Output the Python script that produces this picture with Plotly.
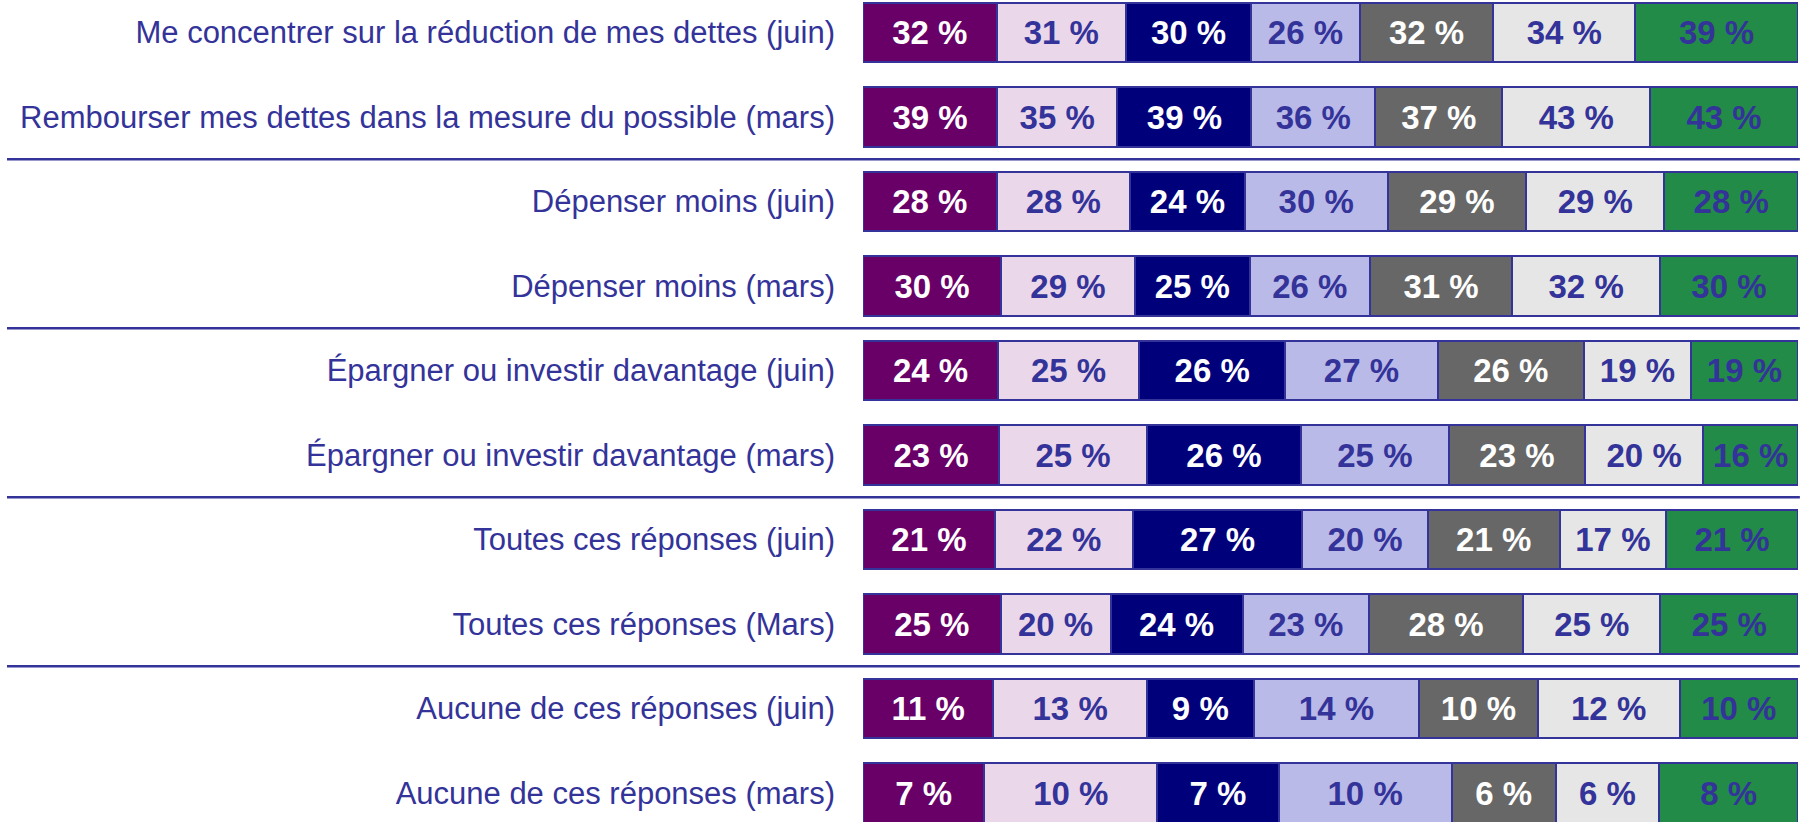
import plotly.graph_objects as go

categories = [
    "Me concentrer sur la réduction de mes dettes (juin)",
    "Rembourser mes dettes dans la mesure du possible (mars)",
    "Dépenser moins (juin)",
    "Dépenser moins (mars)",
    "Épargner ou investir davantage (juin)",
    "Épargner ou investir davantage (mars)",
    "Toutes ces réponses (juin)",
    "Toutes ces réponses (Mars)",
    "Aucune de ces réponses (juin)",
    "Aucune de ces réponses (mars)",
]

s1 = [32, 39, 28, 30, 24, 23, 21, 25, 11, 7]
s2 = [31, 35, 28, 29, 25, 25, 22, 20, 13, 10]
s3 = [30, 39, 24, 25, 26, 26, 27, 24, 9, 7]
s4 = [26, 36, 30, 26, 27, 25, 20, 23, 14, 10]
s5 = [32, 37, 29, 31, 26, 23, 21, 28, 10, 6]
s6 = [34, 43, 29, 32, 19, 20, 17, 25, 12, 6]
s7 = [39, 43, 28, 30, 19, 16, 21, 25, 10, 8]

series_names = ["Série 1", "Série 2", "Série 3", "Série 4", "Série 5", "Série 6", "Série 7"]
series_values = [s1, s2, s3, s4, s5, s6, s7]
fill_colors = ["#680068", "#ead8ea", "#00007a", "#babae8", "#676767", "#e6e6e6", "#228b48"]
text_colors = ["#ffffff", "#333399", "#ffffff", "#333399", "#ffffff", "#333399", "#333399"]

group_breaks = [1.5, 3.5, 5.5, 7.5]

BLUE = "#333399"
FONT = "Liberation Sans, Arial, sans-serif"

fig = go.Figure()
for name, vals, fc, tc in zip(series_names, series_values, fill_colors, text_colors):
    fig.add_trace(go.Bar(
        y=categories, x=vals, name=name, orientation="h",
        marker=dict(color=fc, line=dict(color=BLUE, width=2)),
        text=[f"{v} %" for v in vals],
        textposition="inside", insidetextanchor="middle",
        textfont=dict(family=FONT, size=33, color=tc, weight="bold"),
        cliponaxis=False,
        hoverinfo="skip",
    ))

for yb in group_breaks:
    fig.add_shape(type="line", xref="paper", yref="y",
                  x0=-0.9155, x1=1.002, y0=yb, y1=yb,
                  line=dict(color=BLUE, width=2.5))

fig.update_layout(
    barmode="stack", barnorm="percent", bargap=0.30,
    width=1807, height=822,
    margin=dict(l=863, r=9, t=0, b=0),
    paper_bgcolor="white", plot_bgcolor="white",
    showlegend=False,
    uniformtext=dict(minsize=33, mode="show"),
    xaxis=dict(visible=False, range=[0, 100.001], fixedrange=True),
    yaxis=dict(
        type="category", range=[9.343, -0.385],
        showgrid=False, zeroline=False, showline=False, ticks="",
        ticklabelstandoff=27, fixedrange=True,
        tickfont=dict(family=FONT, size=31, color=BLUE),
    ),
)

fig.write_html("out.html", config={"displayModeBar": False},
               post_script="document.body.style.margin='0';")
